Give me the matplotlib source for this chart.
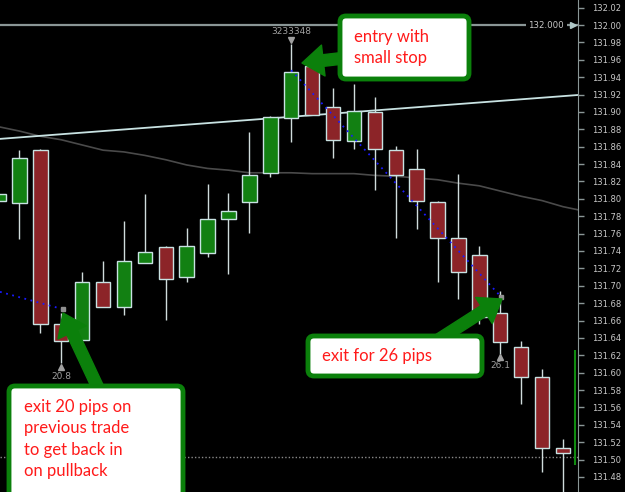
import matplotlib.pyplot as plt
from matplotlib.patches import FancyBboxPatch
import numpy as np

# candle data (one bar per column)
opens = [131.798, 131.795, 131.856, 131.656, 131.638, 131.704, 131.676, 131.726,
         131.745, 131.710, 131.738, 131.777, 131.796, 131.830, 131.893, 131.953,
         131.906, 131.867, 131.900, 131.856, 131.834, 131.796, 131.755, 131.735,
         131.669, 131.630, 131.595, 131.513]
closes = [131.806, 131.847, 131.656, 131.636, 131.704, 131.676, 131.729, 131.739,
          131.708, 131.746, 131.777, 131.786, 131.827, 131.894, 131.946, 131.897,
          131.868, 131.901, 131.857, 131.827, 131.797, 131.755, 131.716, 131.664,
          131.635, 131.595, 131.513, 131.508]
highs = [131.808, 131.856, 131.857, 131.669, 131.716, 131.729, 131.775, 131.806,
         131.746, 131.766, 131.817, 131.807, 131.877, 131.895, 131.978, 131.955,
         131.928, 131.932, 131.917, 131.861, 131.857, 131.797, 131.829, 131.746,
         131.694, 131.636, 131.604, 131.524]
lows = [131.796, 131.754, 131.646, 131.611, 131.637, 131.676, 131.666, 131.726,
        131.661, 131.704, 131.733, 131.714, 131.761, 131.825, 131.865, 131.896,
        131.847, 131.857, 131.810, 131.755, 131.765, 131.704, 131.685, 131.656,
        131.621, 131.564, 131.486, 131.450]

# slow moving average (grey curve), one value past the last bar
ma = [131.883, 131.878, 131.872, 131.868, 131.862, 131.856, 131.854, 131.850,
      131.845, 131.839, 131.835, 131.833, 131.830, 131.830, 131.830, 131.829,
      131.829, 131.829, 131.827, 131.826, 131.824, 131.822, 131.818, 131.815,
      131.809, 131.803, 131.798, 131.791, 131.786]

# trend line end points
trend_x = [0.07, 27.72]
trend_y = [131.869, 131.9195]

# trade lines (blue dotted)
trade1_x = [0.07, 3.08]
trade1_y = [131.693, 131.673]
trade2_x = [14.0, 24.05]
trade2_y = [131.948, 131.687]

yticks = np.round(np.arange(131.48, 132.021, 0.02), 2)

W, H = 625, 492
fig = plt.figure(figsize=(W / 100, H / 100), dpi=100, facecolor='black')
ax = fig.add_axes([0, 0, 578 / W, 1])
ax.set_facecolor('black')

x = np.arange(len(opens))
o = np.array(opens)
c = np.array(closes)
up = c >= o
cols = np.where(up, '#128012', '#8c2428')

ax.plot(np.arange(len(ma)), ma, color='#4a4a4a', lw=1.2, zorder=1)
ax.plot(trend_x, trend_y, color='#c8e2e2', lw=1.3, zorder=1)
ax.axhline(132.00, color='#8a9696', lw=1.6, zorder=1)
ax.axhline(131.503, color='#8a8a8a', lw=1, ls=(0, (1, 1.5)), zorder=1)

ax.vlines(x, lows, highs, color='#d0dcdc', lw=1, zorder=2)
ax.bar(x, c - o, bottom=o, width=0.69, color=cols, edgecolor='#c8e2e2',
       linewidth=1, zorder=3)

ax.plot(trade1_x, trade1_y, color='#1a1aff', lw=1.3, ls=(0, (1, 2.5)), zorder=4)
ax.plot(trade2_x, trade2_y, color='#1a1aff', lw=1.3, ls=(0, (1, 2.5)), zorder=4)
ax.plot([trade1_x[1], trade2_x[1]], [trade1_y[1], trade2_y[1]], 's',
        color='#909090', ms=2.5, zorder=4)

# trade markers
ax.plot(14, 131.983, 'v', color='#a0a0a0', ms=5, zorder=5)
ax.text(14, 131.993, '3233348', color='#a0a0a0', fontsize=6.5,
        ha='center', va='center')
ax.plot(3, 131.607, '^', color='#a0a0a0', ms=5, zorder=5)
ax.text(3, 131.596, '20.8', color='#a0a0a0', fontsize=6.5, ha='center', va='center')
ax.plot(24, 131.618, '^', color='#a0a0a0', ms=5, zorder=5)
ax.text(24, 131.608, '26.1', color='#a0a0a0', fontsize=6.5, ha='center', va='center')

# 132.000 price tag on the line
ax.text(26.2, 132.00, '132.000', color='#c8c8c8', fontsize=6.2, ha='center',
        va='center', bbox=dict(facecolor='black', edgecolor='none', pad=2), zorder=5)
ax.plot(27.5, 132.00, '>', color='#b0c8c8', ms=5, zorder=5)

# current bar range
ax.vlines(27.6, 131.494, 131.626, color='#108c10', lw=1.5, zorder=5)

ax.set_xlim(0.07, 27.72)
ax.set_ylim(131.4627, 132.0288)
ax.set_xticks([])
ax.yaxis.tick_right()
ax.set_yticks(yticks)
ax.set_yticklabels(['%.2f' % v for v in yticks])
ax.tick_params(axis='y', colors='#8a9696', labelcolor='#c8c8c8', labelsize=6,
               length=4, width=1, pad=6)
for s in ['left', 'top', 'bottom']:
    ax.spines[s].set_visible(False)
ax.spines['right'].set_color('#8a9696')

# annotation boxes
green = '#0b800b'
font = ['Lato', 'DejaVu Sans']


def box(x0, y0, x1, y1):
    p = FancyBboxPatch((x0, H - y1), x1 - x0, y1 - y0,
                       boxstyle='round,pad=0,rounding_size=6',
                       transform=None, facecolor='white', edgecolor=green,
                       linewidth=3.5, zorder=10)
    fig.patches.append(p)


def arrow(tail, tip):
    fig.add_artist(plt.Annotation('', xy=(tip[0], H - tip[1]), xycoords='figure pixels',
                                  xytext=(tail[0], H - tail[1]), textcoords='figure pixels',
                                  arrowprops=dict(arrowstyle='simple,head_length=1.1,head_width=1.6,tail_width=0.6',
                                                  color=green, shrinkA=0, shrinkB=0,
                                                  mutation_scale=14), zorder=9))


arrow((345, 58), (302, 63))
box(340, 16, 469, 79)
fig.text(354 / W, 1 - 29 / H, 'entry with\nsmall stop', color='#ff1a1a', fontsize=12,
         family=font, ha='left', va='top', linespacing=1.42, zorder=11)

arrow((438, 340), (502, 299))
box(308, 336, 482, 376)
fig.text(322 / W, 1 - 356 / H, 'exit for 26 pips', color='#ff1a1a', fontsize=12,
         family=font, ha='left', va='center', zorder=11)

arrow((100, 392), (63, 313))
box(9, 386, 183, 505)
fig.text(24 / W, 1 - 399 / H, 'exit 20 pips on\nprevious trade\nto get back in\non pullback',
         color='#ff1a1a', fontsize=12, family=font, ha='left', va='top',
         linespacing=1.42, zorder=11)

fig.savefig('out.png', dpi=100, facecolor='black')
